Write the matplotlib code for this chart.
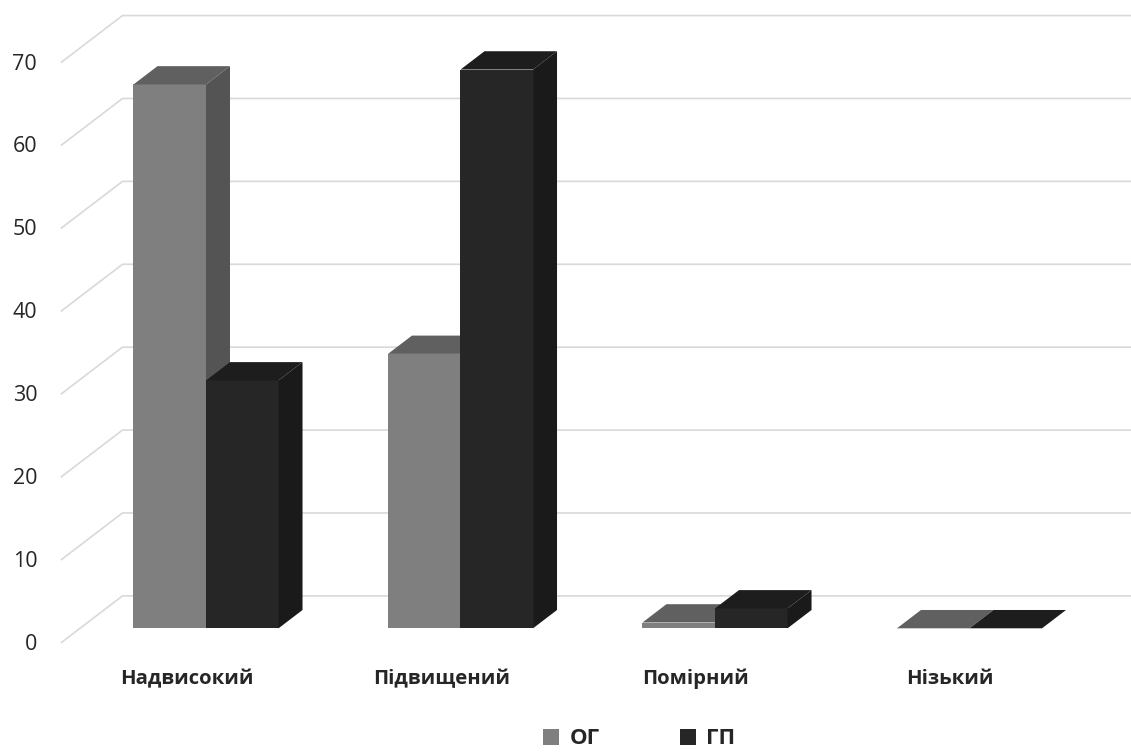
import matplotlib.pyplot as plt
from matplotlib.patches import Patch, Polygon


categories = ["Надвисокий", "Підвищений", "Помірний", "Нізький"]
series_names = ["ОГ", "ГП"]
og_values = [65.6, 33.1, 0.7, 0.0]
gp_values = [29.9, 67.4, 2.4, 0.0]
y_ticks = [0, 10, 20, 30, 40, 50, 60, 70]

plt.rcParams["font.family"] = ["Open Sans", "DejaVu Sans"]

# кольори граней: фронт, верх, бік
FACE_COLORS = [
    ("#7f7f7f", "#606060", "#545454"),
    ("#262626", "#1d1d1d", "#1a1a1a"),
]
TEXT_COLOR = "#262626"
GRID_COLOR = "#d9d9d9"

BAR_W = 0.285        # ширина стовпця в одиницях категорії
DEPTH_X = 0.0943     # зсув однієї одиниці глибини по x
DEPTH_Y = 2.21       # зсув однієї одиниці глибини по y
Z_FLOOR = -0.8       # передній край підлоги
Z_WALL = 1.77        # задня стінка
WALL_LEFT = -0.495


def shift(x, y, z):
    return (x + z * DEPTH_X, y + z * DEPTH_Y)


def draw_bar(ax, x0, x1, value, colors):
    front, top, side = colors
    ax.add_patch(Polygon(
        [shift(x0, 0, 0), shift(x1, 0, 0), shift(x1, value, 0), shift(x0, value, 0)],
        closed=True, facecolor=front, edgecolor="none", zorder=3,
    ))
    ax.add_patch(Polygon(
        [shift(x0, value, 0), shift(x1, value, 0), shift(x1, value, 1), shift(x0, value, 1)],
        closed=True, facecolor=top, edgecolor="none", zorder=3,
    ))
    ax.add_patch(Polygon(
        [shift(x1, 0, 0), shift(x1, 0, 1), shift(x1, value, 1), shift(x1, value, 0)],
        closed=True, facecolor=side, edgecolor="none", zorder=3,
    ))


def main() -> None:
    fig = plt.figure(figsize=(11.31, 7.52), dpi=100)
    ax = fig.add_axes([0, 0, 1, 1])
    ax.set_xlim(-0.8094, 3.6346)
    ax.set_ylim(-14.92, 75.79)
    ax.axis("off")

    # сітка: діагональ на лівій стінці + лінія на задній стінці
    for v in y_ticks:
        pts = [
            shift(WALL_LEFT, v, Z_FLOOR),
            shift(WALL_LEFT, v, Z_WALL),
            shift(4.0, v, Z_WALL),
        ]
        ax.plot([p[0] for p in pts], [p[1] for p in pts],
                color=GRID_COLOR, lw=1.2, zorder=1, solid_capstyle="butt")
        fx, fy = shift(WALL_LEFT, v, Z_FLOOR)
        ax.annotate(str(v), (fx, fy), xytext=(-17, -1), textcoords="offset points",
                    ha="right", va="center", fontsize=15.5, color=TEXT_COLOR)

    for i, name in enumerate(categories):
        draw_bar(ax, i - BAR_W, i, og_values[i], FACE_COLORS[0])
        draw_bar(ax, i, i + BAR_W, gp_values[i], FACE_COLORS[1])
        lx, ly = shift(i, 0, Z_FLOOR)
        ax.annotate(name, (lx, ly), xytext=(0, -26), textcoords="offset points",
                    ha="center", va="center", fontsize=14.6, fontweight="bold",
                    color=TEXT_COLOR)

    handles = [Patch(facecolor=FACE_COLORS[k][0], edgecolor="none", label=series_names[k])
               for k in range(2)]
    leg = fig.legend(handles=handles, loc="center", bbox_to_anchor=(639 / 1131, 1 - 739 / 752),
                     ncol=2, frameon=False, handlelength=0.75, handleheight=0.75,
                     handletextpad=0.45, columnspacing=3.6,
                     prop={"size": 16, "weight": "bold"})
    for t in leg.get_texts():
        t.set_color(TEXT_COLOR)

    fig.savefig("out.png", dpi=100)
    plt.close(fig)


if __name__ == "__main__":
    main()
